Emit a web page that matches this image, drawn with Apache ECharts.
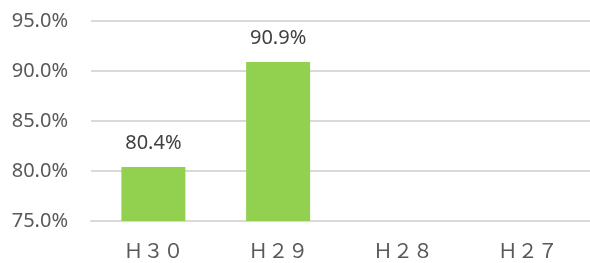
<!DOCTYPE html>
<html>
<head>
<meta charset="utf-8">
<script src="https://cdn.jsdelivr.net/npm/echarts@6/dist/echarts.min.js"></script>
<style>
  html, body { margin: 0; padding: 0; background: #fff; }
  #chart { width: 590px; height: 263px; }
</style>
</head>
<body>
<div id="chart"></div>
<script>
var categories = ['Ｈ３０', 'Ｈ２９', 'Ｈ２８', 'Ｈ２７'];
var rates = [80.4, 90.9, null, null];
var yMin = 75;
var yMax = 95;
var yStep = 5;

var chart = echarts.init(document.getElementById('chart'));
chart.setOption({
  animation: false,
  grid: {
    top: 21,
    bottom: 42,
    left: 91,
    right: 0
  },
  xAxis: {
    type: 'category',
    data: categories,
    axisLine: { show: true, lineStyle: { color: '#d9d9d9', width: 2 } },
    axisTick: { show: false },
    axisLabel: {
      color: '#595959',
      fontSize: 20,
      fontFamily: 'Noto Sans CJK JP',
      margin: 19
    }
  },
  yAxis: {
    type: 'value',
    min: yMin,
    max: yMax,
    interval: yStep,
    axisLine: { show: false },
    axisTick: { show: false },
    splitLine: { lineStyle: { color: '#d9d9d9', width: 2 } },
    axisLabel: {
      color: '#595959',
      fontSize: 20,
      fontFamily: 'Noto Sans',
      margin: 23,
      formatter: function (v) { return v.toFixed(1) + '%'; }
    }
  },
  series: [
    {
      type: 'bar',
      data: rates,
      barWidth: 64,
      itemStyle: { color: '#92d050' },
      label: {
        show: true,
        position: 'top',
        distance: 14,
        color: '#404040',
        fontSize: 20,
        fontFamily: 'Noto Sans',
        formatter: function (p) { return p.value.toFixed(1) + '%'; }
      }
    }
  ]
});
</script>
</body>
</html>
